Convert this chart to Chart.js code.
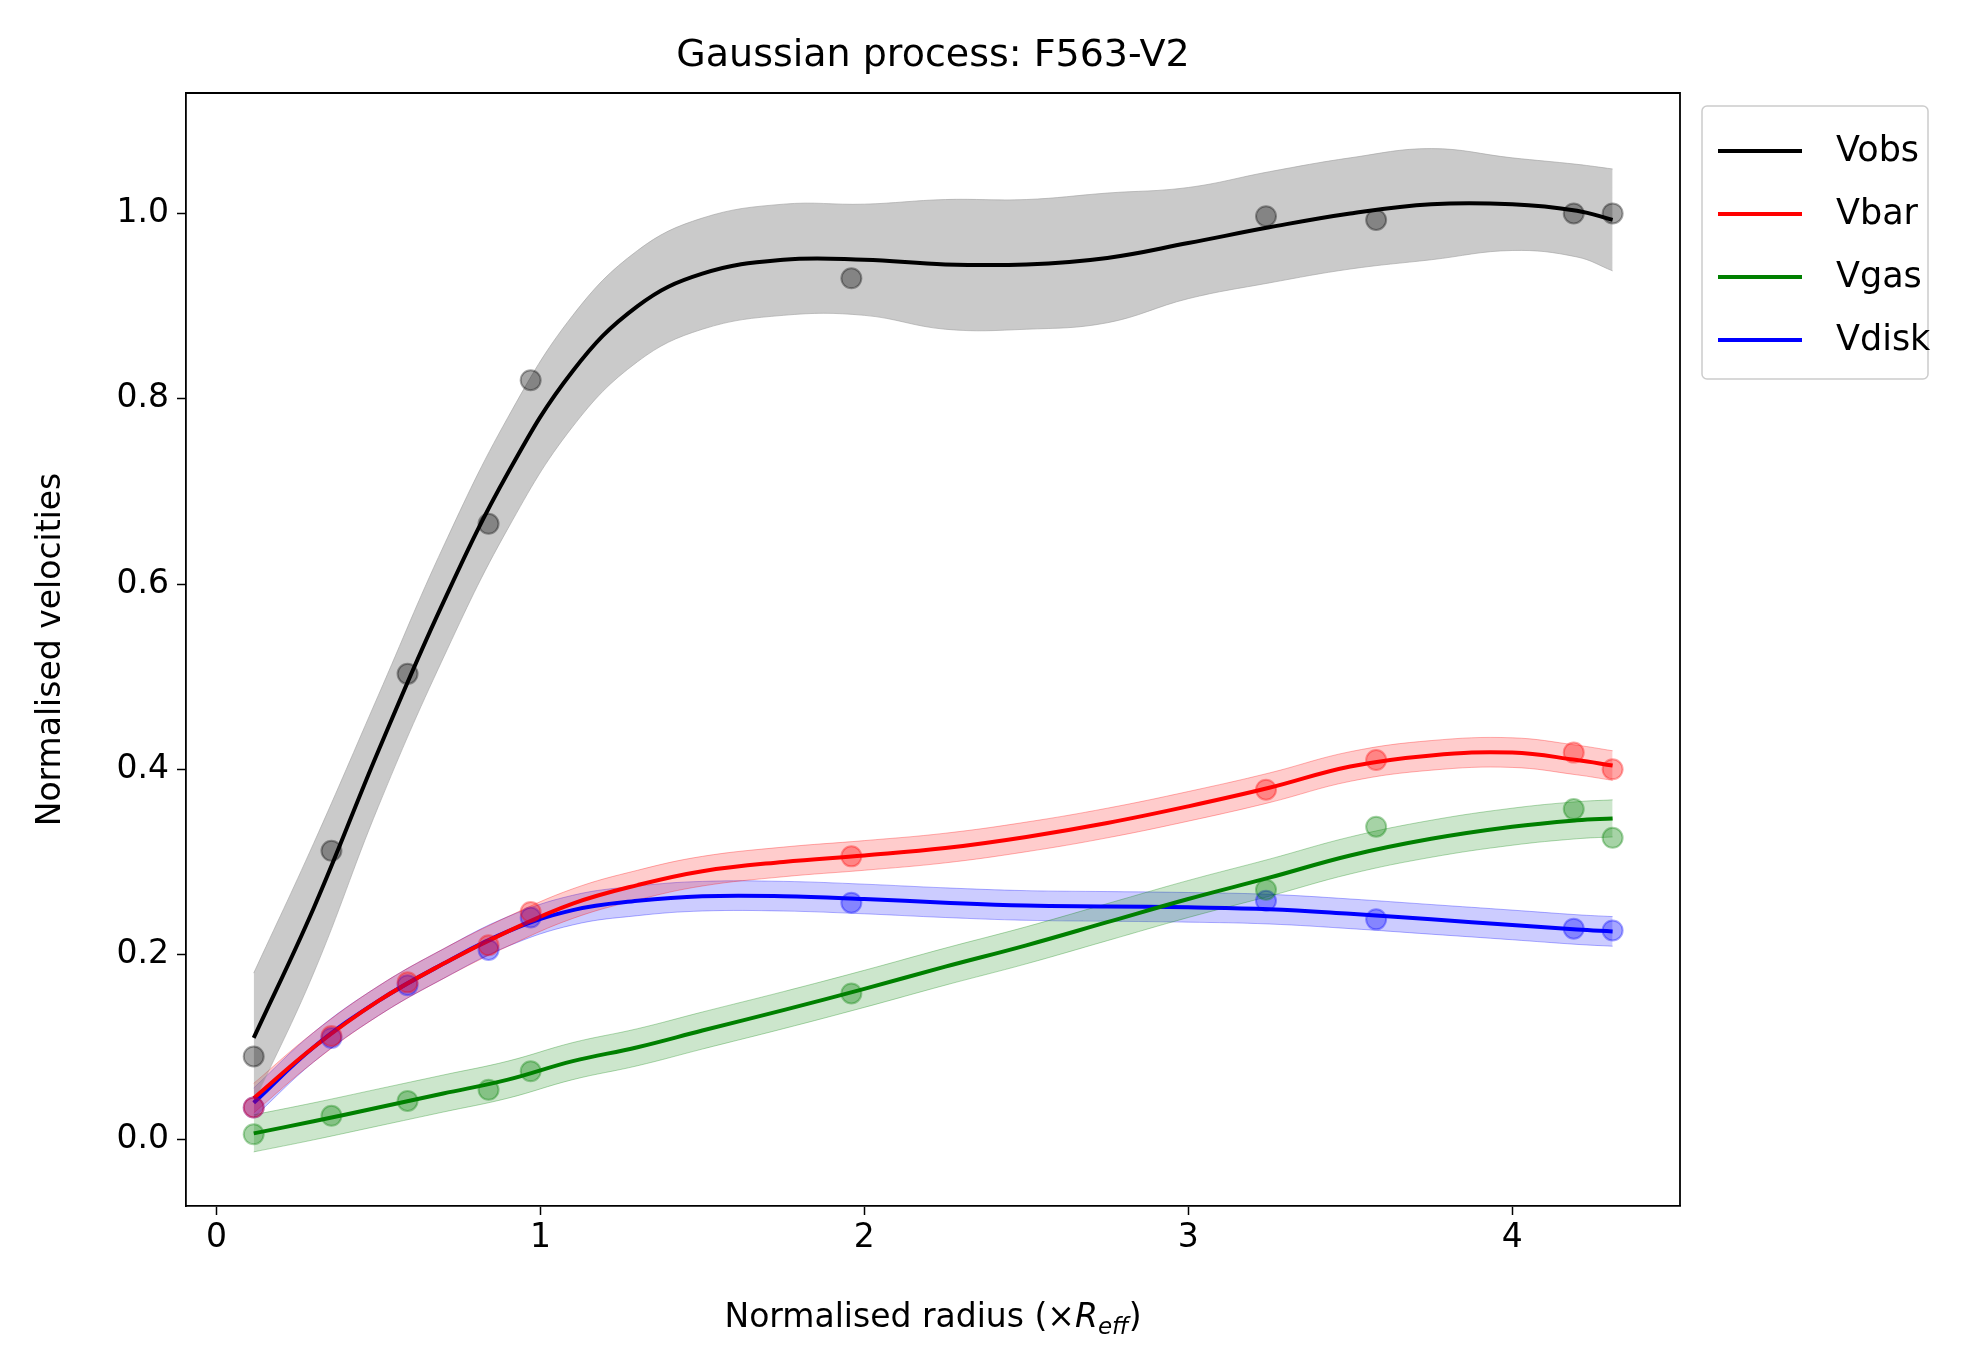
<!DOCTYPE html>
<html><head><meta charset="utf-8">
<script src="https://cdn.jsdelivr.net/npm/chart.js@4"></script>
<style>html,body{margin:0;background:#fff}#wrap{width:1985px;height:1362px}</style>
</head><body><div id="wrap"><canvas id="gp"></canvas></div>
<script>
// observed radii and normalised velocities
const radius = [0.115, 0.355, 0.59, 0.84, 0.97, 1.96, 3.24, 3.58, 4.19, 4.31];
const vobsPts = [0.09, 0.312, 0.503, 0.665, 0.82, 0.93, 0.997, 0.993, 1.0, 1.0];
const vbarPts = [0.035, 0.112, 0.17, 0.21, 0.246, 0.306, 0.378, 0.41, 0.418, 0.40];
const vgasPts = [0.006, 0.026, 0.042, 0.054, 0.074, 0.158, 0.27, 0.338, 0.357, 0.326];
const vdiskPts = [0.035, 0.11, 0.167, 0.205, 0.24, 0.256, 0.258, 0.238, 0.228, 0.226];

// GP prediction grid, mean curves and band half-widths
const gridX = [0.115, 0.3, 0.5, 0.7, 0.9, 1.1, 1.3, 1.5, 1.75, 2.0, 2.25, 2.5, 2.75, 3.0, 3.25, 3.5, 3.75, 4.0, 4.2, 4.31];
const vobsMean = [0.11, 0.25, 0.42, 0.58, 0.72, 0.83, 0.9, 0.935, 0.95, 0.95, 0.945, 0.945, 0.952, 0.968, 0.985, 1.0, 1.01, 1.01, 1.003, 0.993];
const vobsErr = [0.07, 0.07, 0.06, 0.06, 0.06, 0.06, 0.06, 0.06, 0.06, 0.06, 0.07, 0.07, 0.07, 0.06, 0.06, 0.06, 0.06, 0.05, 0.05, 0.055];
const vbarMean = [0.045, 0.10, 0.15, 0.19, 0.225, 0.255, 0.275, 0.29, 0.30, 0.307, 0.315, 0.327, 0.342, 0.36, 0.38, 0.403, 0.415, 0.418, 0.41, 0.404];
const vgasMean = [0.007, 0.02, 0.035, 0.05, 0.065, 0.085, 0.10, 0.118, 0.14, 0.163, 0.187, 0.21, 0.235, 0.26, 0.283, 0.307, 0.325, 0.338, 0.345, 0.347];
const vdiskMean = [0.04, 0.10, 0.15, 0.19, 0.225, 0.248, 0.258, 0.263, 0.263, 0.26, 0.256, 0.253, 0.252, 0.251, 0.249, 0.244, 0.238, 0.232, 0.227, 0.225];
const smallErr = 0.016;
const gasErr = 0.02;

const xy = (xs, ys) => xs.map((x, i) => ({ x: x, y: ys[i] }));
const shift = (ys, d) => ys.map((y, i) => y + (Array.isArray(d) ? d[i] : d));

const series = [
  { label: "Vobs", color: "0,0,0", band: "160,160,160", mean: vobsMean, err: vobsErr, pts: vobsPts, ptc: "0,0,0" },
  { label: "Vbar", color: "255,0,0", band: "255,0,0", mean: vbarMean, err: smallErr, pts: vbarPts, ptc: "255,0,0" },
  { label: "Vgas", color: "0,128,0", band: "0,128,0", mean: vgasMean, err: gasErr, pts: vgasPts, ptc: "0,128,0" },
  { label: "Vdisk", color: "0,0,255", band: "0,0,255", mean: vdiskMean, err: smallErr, pts: vdiskPts, ptc: "0,0,255" }
];

const datasets = [];
series.forEach((s) => {
  const isObs = s.label === "Vobs";
  datasets.push({ type: "line", data: xy(gridX, shift(s.mean, Array.isArray(s.err) ? s.err.map(e => -e) : -s.err)),
    borderColor: `rgba(${s.band},${isObs ? 0.6 : 0.3})`, borderWidth: 1, pointRadius: 0, fill: false, tension: 0.4, order: 3 });
  datasets.push({ type: "line", data: xy(gridX, shift(s.mean, s.err)),
    borderColor: `rgba(${s.band},${isObs ? 0.6 : 0.3})`, borderWidth: 1, pointRadius: 0, tension: 0.4,
    fill: "-1", backgroundColor: isObs ? "rgba(128,128,128,0.42)" : `rgba(${s.band},0.2)`, order: 3 });
  datasets.push({ type: "line", label: s.label, data: xy(gridX, s.mean), borderColor: `rgb(${s.color})`,
    borderWidth: 4, pointRadius: 0, fill: false, tension: 0.4, order: 2 });
  datasets.push({ type: "scatter", data: xy(radius, s.pts), pointRadius: 10,
    backgroundColor: `rgba(${s.ptc},0.35)`, borderColor: `rgba(${s.ptc},0.35)`, borderWidth: 2, order: 1 });
});

const PL = 186, PR = 1680, PT = 93, PB = 1206;
const FONT = "'DejaVu Sans', sans-serif";

const decor = {
  id: "decor",
  afterDraw(chart) {
    const c = chart.ctx;
    c.save();
    // top and right spines
    c.strokeStyle = "#000"; c.lineWidth = 1.8;
    c.beginPath(); c.moveTo(PL, PT); c.lineTo(PR, PT); c.lineTo(PR, PB); c.stroke();
    c.fillStyle = "#000";
    c.font = `38px ${FONT}`;
    c.textAlign = "center";
    c.textBaseline = "alphabetic";
    c.fillText("Gaussian process: F563-V2", (PL + PR) / 2, 66);
    // x label with italic subscript
    c.font = `33px ${FONT}`;
    const a = "Normalised radius (\u00d7", r = "R", sub = "eff", e = ")";
    c.textAlign = "left";
    const wA = c.measureText(a).width;
    c.font = `italic 33px ${FONT}`; const wR = c.measureText(r).width;
    c.font = `italic 23px ${FONT}`; const wS = c.measureText(sub).width;
    c.font = `33px ${FONT}`; const wE = c.measureText(e).width;
    let x = (PL + PR) / 2 - (wA + wR + wS + wE) / 2, y = 1327;
    c.fillText(a, x, y); x += wA;
    c.font = `italic 33px ${FONT}`; c.fillText(r, x, y); x += wR;
    c.font = `italic 23px ${FONT}`; c.fillText(sub, x, y + 7); x += wS;
    c.font = `33px ${FONT}`; c.fillText(e, x, y);
    // y label
    c.translate(60, (PT + PB) / 2);
    c.rotate(-Math.PI / 2);
    c.textAlign = "center";
    c.fillText("Normalised velocities", 0, 0);
    c.restore();
    // legend
    c.save();
    c.strokeStyle = "#ccc"; c.lineWidth = 1.5; c.fillStyle = "rgba(255,255,255,0.9)";
    c.beginPath(); c.roundRect(1702, 106, 226, 273, 5); c.fill(); c.stroke();
    c.font = `35px ${FONT}`; c.textBaseline = "middle"; c.textAlign = "left";
    series.forEach((s, i) => {
      const yy = 151 + i * 63;
      c.strokeStyle = `rgb(${s.color})`; c.lineWidth = 4;
      c.beginPath(); c.moveTo(1718, yy); c.lineTo(1802, yy); c.stroke();
      c.fillStyle = "#000"; c.fillText(s.label, 1836, yy + 1);
    });
    c.restore();
  }
};

new Chart(document.getElementById("gp"), {
  data: { datasets: datasets },
  plugins: [decor],
  options: {
    responsive: true, maintainAspectRatio: false, animation: false,
    devicePixelRatio: 1,
    layout: { padding: { left: 0, right: 1985 - PR, top: PT, bottom: 0 } },
    plugins: { legend: { display: false }, tooltip: { enabled: false } },
    scales: {
      x: {
        type: "linear", min: -0.094, max: 4.518,
        afterFit: (s) => { s.height = 1362 - PB; },
        afterBuildTicks: (s) => { s.ticks = [0, 1, 2, 3, 4].map(v => ({ value: v })); },
        ticks: { color: "#000", font: { size: 33, family: FONT }, padding: 4, callback: (v) => String(v) },
        grid: { drawOnChartArea: false, drawTicks: true, tickLength: 9, color: "#000", tickWidth: 1.5 },
        border: { color: "#000", width: 1.8 }
      },
      y: {
        type: "linear", min: -0.0714, max: 1.130,
        afterFit: (s) => { s.width = PL; },
        afterBuildTicks: (s) => { s.ticks = [0, 0.2, 0.4, 0.6, 0.8, 1.0].map(v => ({ value: v })); },
        ticks: { color: "#000", font: { size: 33, family: FONT }, padding: 8, callback: (v) => v.toFixed(1) },
        grid: { drawOnChartArea: false, drawTicks: true, tickLength: 9, color: "#000", tickWidth: 1.5 },
        border: { color: "#000", width: 1.8 }
      }
    }
  }
});
</script></body></html>
